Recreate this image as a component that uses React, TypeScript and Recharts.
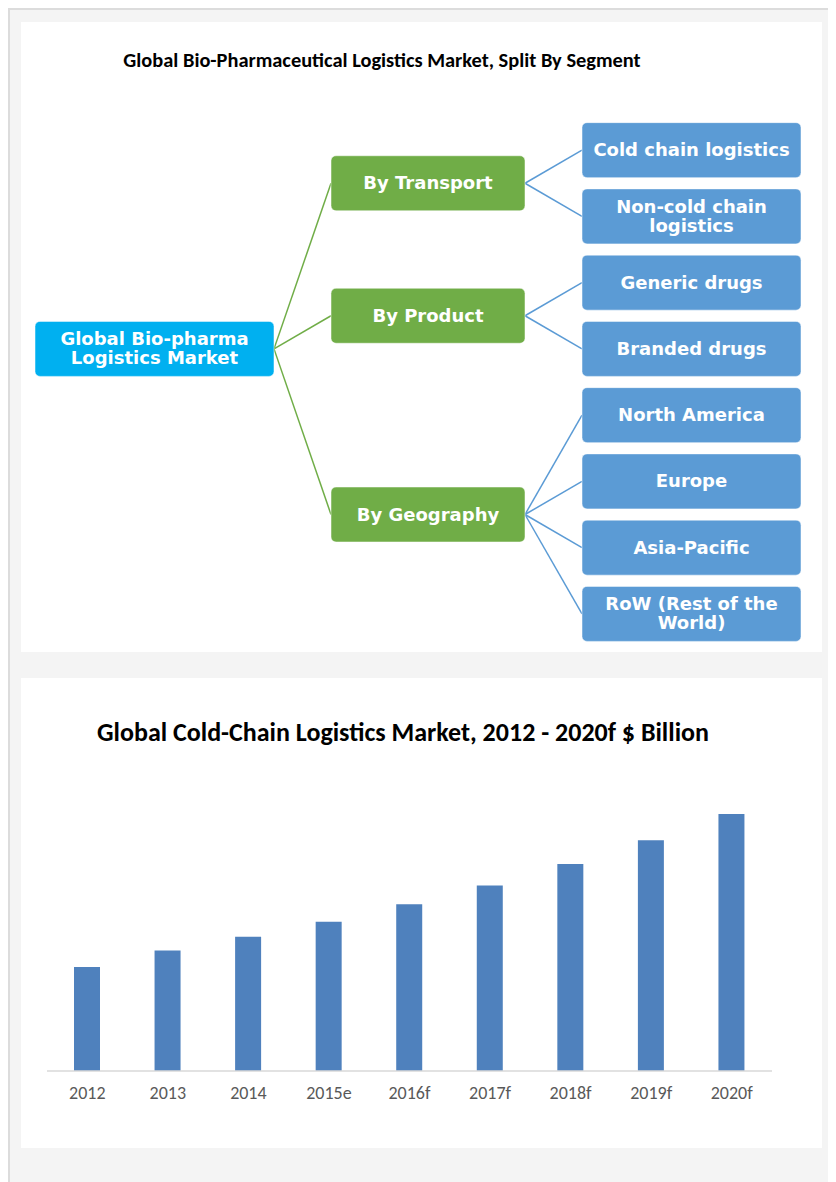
import React from "react";
import { Bar, BarChart, ReferenceLine, Scatter, ScatterChart, XAxis, YAxis } from "recharts";

// ---- tree data ----
const rootLabel = "Global Bio-pharma\nLogistics Market";
const segmentLabels = ["By Transport", "By Product", "By Geography"];
const leafLabels = [
  ["Cold chain logistics", "Non-cold chain\nlogistics"],
  ["Generic drugs", "Branded drugs"],
  ["North America", "Europe", "Asia-Pacific", "RoW (Rest of the\nWorld)"],
];

// ---- bar data ($ billion) ----
const years = ["2012", "2013", "2014", "2015e", "2016f", "2017f", "2018f", "2019f", "2020f"];
const marketValues = [8.3, 9.6, 10.7, 11.9, 13.3, 14.8, 16.5, 18.4, 20.5];

// ---- layout / style ----
const LEVEL_COLORS = ["#00b0f0", "#70ad47", "#5b9bd5"];
const LINK_COLORS = ["#70ad47", "#5b9bd5"];
const BOX_W = [239, 194, 219];
const BOX_H = 55;
const GAP = 57;
const PAD_LEFT = 14;
const TREE_W = 801;
const TREE_H = 630;
const TITLE_FONT = "Carlito, Calibri, Lato, sans-serif";
const NODE_FONT = "Verdana, 'DejaVu Sans', sans-serif";

const levelLeft = (l: number) => PAD_LEFT + BOX_W.slice(0, l).reduce((a, b) => a + b, 0) + GAP * l;
const levelCenter = (l: number) => levelLeft(l) + BOX_W[l] / 2;
const mean = (v: number[]) => v.reduce((a, b) => a + b, 0) / v.length;

type Node = { x: number; y: number; label: string; level: number };

const leafNodes: Node[] = [];
const segmentNodes: Node[] = [];
const leafGroups: Node[][] = [];
let nextRow = 0;
segmentLabels.forEach((label, i) => {
  const group = leafLabels[i].map((leaf) => {
    const node = { x: levelCenter(2), y: nextRow++, label: leaf, level: 2 };
    leafNodes.push(node);
    return node;
  });
  leafGroups.push(group);
  segmentNodes.push({ x: levelCenter(1), y: mean(group.map((g) => g.y)), label, level: 1 });
});
const rootNode: Node = {
  x: levelCenter(0),
  y: Math.round(mean(segmentNodes.map((s) => s.y))),
  label: rootLabel,
  level: 0,
};

type Link = { from: Node; to: Node };
const links: Link[] = [];
segmentNodes.forEach((seg, i) => {
  links.push({ from: rootNode, to: seg });
  leafGroups[i].forEach((leaf) => links.push({ from: seg, to: leaf }));
});

const barData = years.map((year, i) => ({ year, value: marketValues[i] }));

function NodeBox(props: any) {
  const { cx, cy, payload } = props;
  const w = BOX_W[payload.level];
  const lines: string[] = payload.label.split("\n");
  const lh = 19;
  return (
    <g>
      <rect
        x={cx - w / 2}
        y={cy - BOX_H / 2}
        width={w}
        height={BOX_H}
        rx={5}
        fill={LEVEL_COLORS[payload.level]}
        stroke="#ffffff"
        strokeOpacity={0.5}
      />
      <text textAnchor="middle" fill="#ffffff" fontFamily={NODE_FONT} fontWeight="bold" fontSize={18}>
        {lines.map((t, i) => (
          <tspan key={i} x={cx} y={cy + (i - (lines.length - 1) / 2) * lh + 6}>
            {t}
          </tspan>
        ))}
      </text>
    </g>
  );
}

export default function App() {
  return (
    <div
      style={{
        position: "relative",
        width: 826,
        height: 1174,
        background: "#f4f4f4",
        borderTop: "2px solid #dcdcdc",
        borderLeft: "2px solid #dcdcdc",
        borderRight: "2px solid #dcdcdc",
        boxSizing: "border-box",
      }}
    >
      <div style={{ position: "absolute", left: 11, top: 12, width: TREE_W, height: TREE_H, background: "#fff" }}>
        <div
          style={{
            position: "absolute",
            left: 61,
            top: 25,
            width: 600,
            height: 26,
            lineHeight: "26px",
            textAlign: "center",
            fontFamily: TITLE_FONT,
            fontWeight: "bold",
            fontSize: 20.4,
            color: "#000",
          }}
        >
          Global Bio-Pharmaceutical Logistics Market, Split By Segment
        </div>
        <div style={{ position: "absolute", left: 0, top: 0 }}>
          <ScatterChart width={TREE_W} height={TREE_H} margin={{ top: 95, right: 0, bottom: 5, left: 0 }}>
            <XAxis type="number" dataKey="x" domain={[0, TREE_W]} allowDataOverflow hide />
            <YAxis type="number" dataKey="y" domain={[-0.5, 7.5]} allowDataOverflow reversed hide />
            {links.map((lk, i) => (
              <ReferenceLine
                key={i}
                segment={[
                  { x: levelLeft(lk.from.level) + BOX_W[lk.from.level], y: lk.from.y },
                  { x: levelLeft(lk.to.level), y: lk.to.y },
                ]}
                stroke={LINK_COLORS[lk.from.level]}
                strokeWidth={1.5}
                ifOverflow="visible"
              />
            ))}
            <Scatter data={[rootNode]} shape={NodeBox} isAnimationActive={false} />
            <Scatter data={segmentNodes} shape={NodeBox} isAnimationActive={false} />
            <Scatter data={leafNodes} shape={NodeBox} isAnimationActive={false} />
          </ScatterChart>
        </div>
      </div>

      <div style={{ position: "absolute", left: 11, top: 668, width: 801, height: 470, background: "#fff" }}>
        <div
          style={{
            position: "absolute",
            left: 32,
            top: 37,
            width: 700,
            height: 34,
            lineHeight: "34px",
            textAlign: "center",
            fontFamily: TITLE_FONT,
            fontWeight: "bold",
            fontSize: 26,
            color: "#000",
          }}
        >
          Global Cold-Chain Logistics Market, 2012 - 2020f $ Billion
        </div>
        <div style={{ position: "absolute", left: 0, top: 0 }}>
          <BarChart
            width={801}
            height={470}
            data={barData}
            margin={{ top: 92, right: 50, bottom: 47, left: 26 }}
            barSize={26}
          >
            <XAxis
              dataKey="year"
              axisLine={{ stroke: "#d9d9d9", strokeWidth: 1.5 }}
              tickLine={false}
              tick={{ fill: "#595959", fontSize: 18, fontFamily: TITLE_FONT }}
              tickMargin={9}
              height={30}
              interval={0}
            />
            <YAxis hide domain={[0, 24]} allowDataOverflow />
            <Bar dataKey="value" fill="#4f81bd" isAnimationActive={false} />
          </BarChart>
        </div>
      </div>
    </div>
  );
}
